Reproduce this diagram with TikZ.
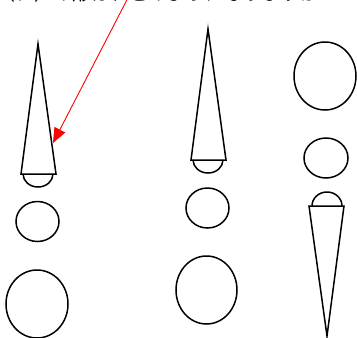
\documentclass[tikz,border=0pt]{standalone}
\usepackage{fontspec}
\newfontfamily\jp{Noto Sans CJK JP}
\usetikzlibrary{arrows.meta}
\begin{document}
\begin{tikzpicture}[x=1pt,y=-1pt,
  shp/.style={draw=black,line width=1.5pt,line join=miter},
  ptr/.style={draw=red,line width=0.9pt,-{Triangle[length=15pt,width=12pt]}}]
\clip (0,0) rectangle (357,338);
\fill[white] (0,0) rectangle (357,338);
% cut-off text at the top
\node[anchor=base west,inner sep=0pt,font=\jp\fontsize{19pt}{19pt}\selectfont] (txt) at (-4,0.5) {（ア）の形は、どのようになりますか};
% left column
\draw[shp] (38,174) ++(-15,0) arc[start angle=180,end angle=360,x radius=15,y radius=-13];
\draw[shp] (38,44) -- (56,174) -- (21,174) -- cycle;
\draw[shp] (37.5,221.5) ellipse[x radius=21.5,y radius=20];
\draw[shp] (37,304) ellipse[x radius=31,y radius=34];
% middle column
\draw[shp] (208,160) ++(-15,0) arc[start angle=180,end angle=360,x radius=15,y radius=-13];
\draw[shp] (208,29) -- (226,160) -- (191,160) -- cycle;
\draw[shp] (207.5,208) ellipse[x radius=21.5,y radius=20];
\draw[shp] (206.5,290) ellipse[x radius=30.5,y radius=34];
% right column
\draw[shp] (325,76) ellipse[x radius=31,y radius=34];
\draw[shp] (326,158) ellipse[x radius=22,y radius=20];
\draw[shp] (327,206) ++(-15,0) arc[start angle=180,end angle=0,x radius=15,y radius=-14];
\draw[shp] (309,206) -- (344,206) -- (327,336) -- cycle;
% red pointer
\coordinate (pstart) at (131,-8);
\coordinate (ptip) at (53,143);
\draw[ptr] (pstart) -- (ptip);
\end{tikzpicture}
\end{document}
